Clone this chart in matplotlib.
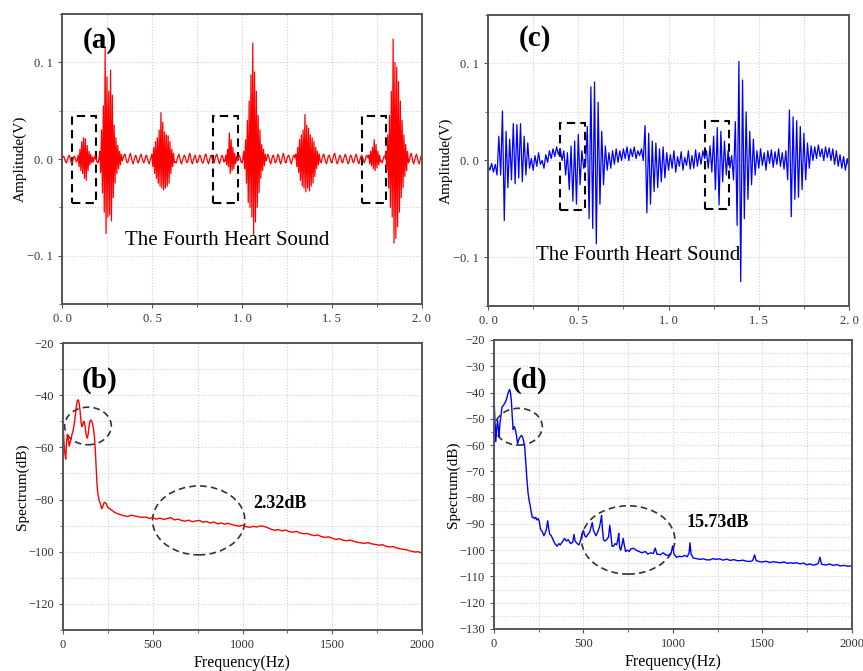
import numpy as np
import matplotlib
matplotlib.use("Agg")
import matplotlib.pyplot as plt
from matplotlib.patches import Ellipse, Rectangle
from matplotlib.ticker import MultipleLocator, FuncFormatter

plt.rcParams['font.family'] = ['Liberation Serif', 'DejaVu Serif']

# ----- TIME SIGNALS (values in mV)
step_a = 0.005   # seconds between samples of (a)
step_c = 0.01    # seconds between samples of (c)

amp_a_mV = [
    0, 2, 3, 0, -3, -4, -1, 2, 4, 1, -2, -5, -2, 2, 3, 0, -3, -1,
    4, -8, 10, -12, 18, -15, 22, -20, 21, -22, 14, -12, 8, -6, 5, -4, 2, -3,
    2, 4, 0, -3, -4, 0,
    8, -14, 30, -35, 55, -55, 116, -77, 85, -60, 70, -58, 92, -64, 66, -40,
    35, -25, 22, -15, 14, -10, 8, -6, 5,
    -2, 1, 4, 5, 1, -3, -4, -1, 3, 6, 2, -2, -5, -2, 2, 4, 1, -3, -4, 0,
    3, 5, 1, -2, -4, -1, 3, 4, 0, -3, -5, -1, 2,
    5, -8, 12, -15, 18, -20, 22, -25, 30, -28, 48, -30, 38, -32, 28, -30,
    25, -28, 24, -25, 18, -15, 10, -8, 6, -4,
    -3, -4, 0, 3, 5, 1, -3, -5, -1, 2, 4, 2, -2, -4, -2, 3, 6, 2, -3, -5,
    -1, 2, 4, 0, -4, -3, 1, 4, 3, -1, -4, -4, 0, 4, 5, 1, -3, -5, -1, 3,
    4, 0, -3, -4, 0, 3, 5, 2, -2, -5, -2, 2, 4, 1, -3, -2,
    4, -6, 10, -8, 27, -15, 20, -12, 12, -10, 6, -5, 3, -2,
    2, 4, 1, -3, -4, 0,
    8, -10, 20, -25, 40, -45, 60, -50, 87, -60, 120, -78, 90, -65, 70, -50,
    45, -35, 30, -20, 15, -12, 10, -7, 5,
    -2, 2, 5, 2, -3, -5, -1, 3, 4, 0, -4, -3, 1, 5, 3, -2, -5, -2, 2, 6,
    2, -3, -4, 0, 3, 4, 1, -3, -5, -1, 3, 4, 1,
    5, -8, 12, -14, 20, -22, 25, -28, 30, -30, 46, -34, 35, -30, 32, -33,
    25, -28, 22, -25, 18, -18, 12, -10, 8, -6, 5,
    -2, -4, 0, 4, 5, 1, -3, -5, -1, 3, 4, 1, -3, -4, 0, 4, 6, 2, -3, -5,
    -2, 2, 4, 1, -3, -4, 0, 3, 5, 1, -2, -5, -3, 2, 4, 2, -2, -4, -1, 3,
    5, 1, -3, -5, -1, 2, 4, 2, -2, -4, -1, 3, 4, 1,
    4, -5, 8, -7, 12, -10, 20, -12, 15, -9, 8, -6, 4, -3,
    -2, -4, 0, 3, 2,
    8, -12, 25, -30, 45, -50, 70, -60, 124, -87, 100, -82, 95, -70, 80, -55,
    60, -40, 40, -30, 25, -18, 15, -12, 8,
    -4, -2, 3, 6, 2, -3, -5, -1, 3, 5, 1, -3, -5, -1, 3, 2,
]

amp_c_mV = [
    -5, -10, -3, -12, -4, -15,
    25, -15, 51, -62, 30, -28, 22, -20, 38, -24, 37, -18, 38, -22, 25, -15, 18,
    -8, 2, -10, 5, -6, 8, -4, 0, -8, 6, -2, 10, 2, 12, 4, 14, 6,
    12, 0, 10, -15, 8, -30, 15, -42, 20, -45, 27, -25, 10, -8,
    -5, 35, -60, 76, -70, 81, -86, 60, -45, 30, -25, 15,
    -10, 8, -8, 10, -4, 12, -2, 10, 0, 12, 2, 14, 0, 12, 4, 14, 2, 10, 5, 12,
    0, 36, -54, 28, -45, 20, -32, 18, -28, 12, -22, 14, -18, 8,
    -10, 6, -8, 10, -12, 4, -6, 9, -10, 3, -5, 10, -9, 5, -8, 11, -6, 8, -4, 10,
    2, 10, -8, 15, -12, 25, -30, 34, -46, 30, -22, 20, -15, 10, -8,
    5, -20, 40, -67, 102, -125, 83, -60, 50, -40, 30, -25, 22, -15,
    10, -8, 12, -5, 8, -10, 10, -3, 11, -7, 9, -4, 12, -6, 8, -9, 10,
    -20, 52, -58, 45, -40, 41, -38, 35, -30, 28, -20, 18,
    -8, 15, 0, 14, 2, 16, 4, 12, 0, 14, 3, 13, 0, 12, -4, 10, -6, 6, -8, 4,
    -10, 2, -8,
]

# dashed boxes around the fourth heart sound: (t_start, t_end, v_low, v_high)
boxes_a = [(0.055, 0.19, -0.046, 0.045), (0.84, 0.98, -0.046, 0.045), (1.667, 1.80, -0.046, 0.045)]
boxes_c = [(0.40, 0.537, -0.0515, 0.039), (1.204, 1.337, -0.050, 0.041)]

# ----- SPECTRA
spec_b_freq_low = [0, 5, 10, 15, 20, 25, 30, 35, 40, 45, 50, 55, 60, 65, 70, 75, 80, 85, 90, 95,
                   100, 105, 110, 115, 120, 125, 130, 135, 140, 145, 150, 155, 160, 165, 170,
                   175, 180, 185, 190, 195, 200, 210, 215, 220, 230, 240, 250, 260, 270, 280, 290]
spec_b_db_low = [-50, -58, -62, -64.5, -58, -55, -57, -59.5, -58, -57, -55, -54, -52, -50, -47,
                 -44, -42, -41.8, -43, -46, -50, -52, -51.5, -50, -50.5, -53, -55.5, -56.5, -55,
                 -52, -50, -49.5, -50, -51, -53, -56, -61, -68, -75, -78, -80, -82, -83.5, -83,
                 -81, -81.5, -83, -83.5, -84, -84.5, -85]
# 300 Hz to 2000 Hz every 20 Hz
spec_b_db_high = [
    -85.3, -85.8, -86.2, -86.5, -86.0, -86.3, -86.6, -86.8, -86.7, -87.2,
    -87.0, -87.5, -87.1, -87.6, -87.3, -86.9, -87.8, -87.5, -88.0, -88.3,
    -87.9, -88.5, -88.2, -88.0, -88.7, -88.4, -89.0, -88.6, -89.3, -89.0,
    -89.4, -89.1, -89.6, -89.9, -90.2, -89.8, -90.4, -90.6, -90.3, -90.5,
    -90.1, -90.3, -90.8, -91.4, -91.8, -91.5, -92.0, -91.7, -92.3, -92.5,
    -92.2, -92.8, -93.1, -93.0, -93.5, -93.8, -93.6, -94.2, -94.5, -94.3,
    -94.8, -95.3, -95.0, -95.6, -95.8, -95.5, -96.0, -96.4, -96.6, -96.8,
    -96.5, -97.0, -97.2, -97.5, -97.3, -97.9, -98.2, -98.0, -98.6, -98.9,
    -99.1, -99.4, -99.8, -100.1, -100.0, -100.6,
]

spec_d_freq = [0, 5, 10, 15, 20, 25, 28, 33, 40, 45, 52, 60, 65, 72, 80, 87, 92, 97, 102, 107,
               112, 117, 122, 127, 132, 138, 145, 153, 160, 166, 172, 177, 183, 190, 196, 201,
               207, 214, 220, 227, 233, 240, 247, 253, 260, 270, 279, 286, 293, 300, 306, 312,
               320, 330, 340, 353, 362, 370, 381, 394, 405, 415, 428, 440, 447, 453, 465, 475,
               485, 493, 500, 507, 515, 525, 535, 543, 549, 556, 563, 570, 580, 590, 596, 601,
               606, 612, 620, 630, 640, 647, 653, 660, 668, 676, 685, 692, 697, 702, 708, 715,
               722, 728, 735, 745, 755, 765, 780, 795, 810, 827, 845, 860, 875, 890, 901, 910,
               929, 945, 960, 975, 990, 998, 1006, 1020, 1035, 1050, 1065, 1080, 1090, 1095,
               1101, 1114, 1130, 1150, 1170, 1190, 1207, 1225, 1240, 1260, 1280, 1300, 1320,
               1340, 1360, 1374, 1390, 1410, 1430, 1445, 1456, 1465, 1486, 1500, 1520, 1540,
               1560, 1579, 1600, 1620, 1640, 1660, 1672, 1690, 1710, 1730, 1747, 1765, 1780,
               1800, 1812, 1821, 1830, 1845, 1858, 1875, 1895, 1915, 1935, 1955, 1975, 1988, 2000]
spec_d_db = [-41.8, -50, -58.7, -54, -50.5, -54, -56.8, -52, -48, -45.5, -45, -44, -43.5, -42,
             -40, -38.8, -40, -43, -49, -54, -53, -53.5, -55, -57, -59.5, -58, -57, -56.3, -57,
             -58.5, -61, -66, -72, -78, -81, -82.5, -85, -87.5, -87.5, -88, -87.5, -88.5, -88,
             -89, -92, -93, -94.5, -93.5, -92, -88.8, -92, -94, -94.5, -96, -97.5, -98.5, -97.5,
             -98, -97, -95.5, -96.5, -96, -97.5, -97, -94, -96.5, -97.5, -98, -96, -93.6, -92.5,
             -94.5, -95, -94, -93, -91, -89.5, -92.5, -93.5, -94.5, -93, -91, -89, -86.8, -92,
             -96, -96.5, -96, -95, -90.5, -94, -98.6, -98.5, -97.5, -98, -96, -93.6, -99, -100,
             -98, -95.5, -98, -100.5, -100, -100.5, -99.5, -99.3, -100, -100.5, -101, -100.5,
             -101.5, -101, -101.3, -99.2, -101.5, -101.7, -101, -101.8, -102, -101, -98.4,
             -101.5, -102.7, -102.3, -102.5, -102, -102.5, -101, -97.2, -101.5, -103, -103.2,
             -103.5, -103.3, -103.7, -103.7, -103.2, -103.5, -103.3, -103.8, -103.4, -103.9,
             -103.6, -104, -104, -103.8, -104.2, -104.3, -104, -101.8, -104, -104.4, -104.5,
             -104.2, -104.7, -104.4, -104.6, -104.8, -104.5, -105, -104.8, -105, -104.8, -105.2,
             -104.9, -105.6, -105.2, -105.7, -105.5, -105, -102.7, -105.3, -105.6, -105.6,
             -105.3, -105.8, -105.5, -106, -105.8, -106.1, -106, -106.2]

# annotation ellipses: (centre_f, centre_db, width_f, height_db)
ellipses_b = [(139, -51.8, 260, 14.4), (756, -88, 514, 26.4)]
ellipses_d = [(138, -53, 264, 14), (750, -96.1, 521, 26)]

RED = "#ff0000"
BLUE = "#0000ff"
SPINE = "#555555"


def style_axes(ax):
    for s in ax.spines.values():
        s.set_color(SPINE)
        s.set_linewidth(1.4)
    ax.grid(which="both", color="#cfcfcf", linestyle=":", linewidth=0.8)
    ax.set_axisbelow(True)
    ax.tick_params(which="major", direction="out", length=3, width=0.8,
                   color=SPINE, labelsize=9, labelcolor="#333333")
    ax.tick_params(which="minor", direction="out", length=2, width=0.6, color=SPINE)


def cn_fmt(v, pos):
    # mimic the wide decimal point of the original tick font
    return f"{v:.1f}".replace(".", ". ").replace("-", "\u2212")


def time_panel(ax, amp_mV, step, color, boxes, letter, text_xy):
    amp = np.array(amp_mV) / 1000.0
    t = np.arange(len(amp)) * step
    ax.plot(t, amp, color=color, lw=0.9)
    for (t0, t1, v0, v1) in boxes:
        ax.add_patch(Rectangle((t0, v0), t1 - t0, v1 - v0, fill=False, ec="black",
                               lw=1.5, ls=(0, (4, 2.5))))
    ax.set_xlim(0, 2.0)
    ax.set_ylim(-0.15, 0.15)
    ax.xaxis.set_major_locator(MultipleLocator(0.5))
    ax.xaxis.set_minor_locator(MultipleLocator(0.25))
    ax.yaxis.set_major_locator(MultipleLocator(0.1))
    ax.yaxis.set_minor_locator(MultipleLocator(0.05))
    ax.xaxis.set_major_formatter(FuncFormatter(cn_fmt))
    ax.yaxis.set_major_formatter(FuncFormatter(cn_fmt))
    style_axes(ax)
    ax.set_ylabel("Amplitude(V)", fontsize=11)
    ax.yaxis.set_label_coords(-0.097, 0.5)
    ax.text(text_xy[0], text_xy[1], "The Fourth Heart Sound", fontsize=15,
            ha="center", va="center")
    ax.text(letter[1], letter[2], letter[0], transform=ax.transAxes, fontsize=21,
            fontweight="bold", ha="center", va="center")


def spec_panel(ax, freq, db, color, ellipses, yticks_step, y_minor, letter, note):
    ax.plot(freq, db, color=color, lw=1.0)
    for (cf, cd, w, h) in ellipses:
        ax.add_patch(Ellipse((cf, cd), w, h, fill=False, ec="#333333", lw=1.2,
                             ls=(0, (4, 2.5))))
    ax.set_xlim(0, 2000)
    ax.set_ylim(-130, -20)
    ax.xaxis.set_major_locator(MultipleLocator(500))
    ax.xaxis.set_minor_locator(MultipleLocator(250))
    ax.yaxis.set_major_locator(MultipleLocator(yticks_step))
    ax.yaxis.set_minor_locator(MultipleLocator(y_minor))
    style_axes(ax)
    ax.set_ylabel("Spectrum(dB)", fontsize=11)
    ax.yaxis.set_label_coords(-0.094, 0.5)
    ax.set_xlabel("Frequency(Hz)", fontsize=11.5, labelpad=3)
    ax.text(letter[1], letter[2], letter[0], transform=ax.transAxes, fontsize=21,
            fontweight="bold", ha="center", va="center")
    ax.text(note[1], note[2], note[0], fontsize=13, fontweight="bold",
            ha="left", va="center")


fig = plt.figure(figsize=(8.63, 6.71), dpi=100)
ax_a = fig.add_axes([0.0718, 0.5469, 0.4171, 0.4322])
ax_c = fig.add_axes([0.5655, 0.5440, 0.4183, 0.4337])
ax_b = fig.add_axes([0.0730, 0.0611, 0.4160, 0.4277])
ax_d = fig.add_axes([0.5724, 0.0626, 0.4148, 0.4307])

time_panel(ax_a, amp_a_mV, step_a, RED, boxes_a, ("(a)", 0.105, 0.91), (0.917, -0.084))
time_panel(ax_c, amp_c_mV, step_c, BLUE, boxes_c, ("(c)", 0.13, 0.92), (0.83, -0.0976))

freq_b = np.concatenate([spec_b_freq_low, np.arange(300, 2001, 20)[:len(spec_b_db_high)]])
db_b = np.concatenate([spec_b_db_low, spec_b_db_high])
spec_panel(ax_b, freq_b, db_b, RED, ellipses_b, 20, 10, ("(b)", 0.103, 0.87),
           ("2.32dB", 1058, -81.7))
spec_panel(ax_d, spec_d_freq, spec_d_db, BLUE, ellipses_d, 10, 5, ("(d)", 0.10, 0.86),
           ("15.73dB", 1076, -89.5))

fig.savefig("out.png", dpi=100)
